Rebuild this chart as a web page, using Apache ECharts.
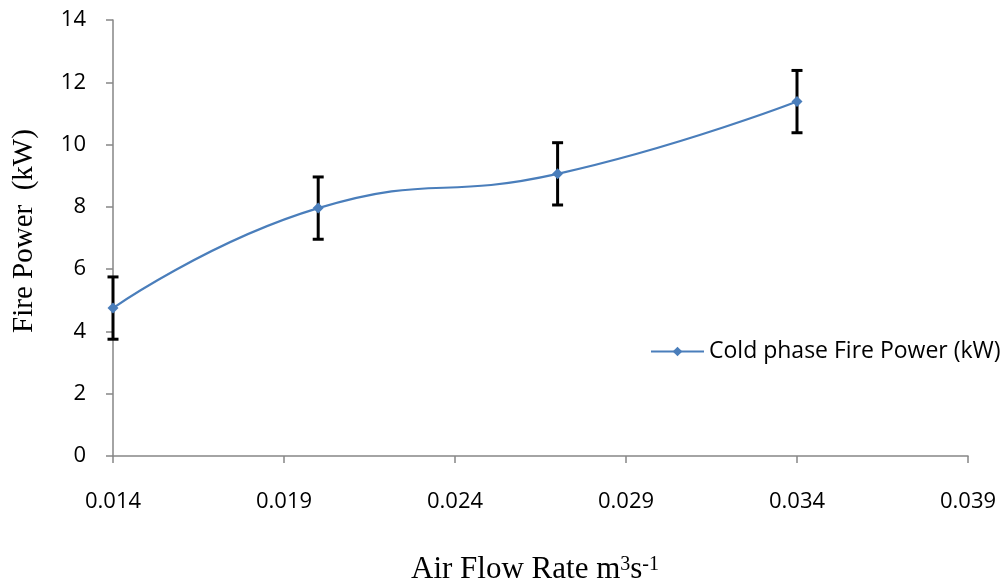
<!DOCTYPE html>
<html><head><meta charset="utf-8">
<script src="https://cdn.jsdelivr.net/npm/echarts@6/dist/echarts.min.js"></script>
<style>html,body{margin:0;padding:0;background:#fff}#c{width:1008px;height:586px}</style>
</head><body><div id="c"></div>
<script>
const seriesName = 'Cold phase Fire Power (kW)';
const airFlow = [0.014, 0.020, 0.027, 0.034];
const firePower = [4.75, 7.96, 9.06, 11.38];
const errUp = [1, 1, 1, 1];
const errDown = [1, 1, 1, 1];
const xTickLabels = ['0.014', '0.019', '0.024', '0.029', '0.034', '0.039'];
const xStart = 0.014;   // axis origin (x values are plotted relative to it)
const xStep = 0.005;

const lineData = airFlow.map((x, i) => [x - xStart, firePower[i]]);
const errData = airFlow.map((x, i) => [x - xStart, firePower[i] - errDown[i], firePower[i] + errUp[i]]);

const chart = echarts.init(document.getElementById('c'), null, {renderer: 'canvas'});
const axisCol = '#868686';
const tickFont = '"Open Sans", "Noto Sans", sans-serif';
const serif = '"Liberation Serif", "Times New Roman", serif';
chart.setOption({
  animation: false,
  backgroundColor: '#fff',
  grid: {left: 113, right: 40, top: 20, bottom: 130, containLabel: false},
  xAxis: {
    type: 'value', min: 0, max: xStep * (xTickLabels.length - 1), interval: xStep,
    axisLine: {show: true, onZero: false, lineStyle: {color: axisCol, width: 1.5}},
    axisTick: {show: true, inside: false, length: 7, lineStyle: {color: axisCol, width: 1.5}},
    splitLine: {show: false},
    axisLabel: {margin: 35, fontSize: 22, color: '#000', fontFamily: tickFont,
      formatter: v => xTickLabels[Math.round(v / xStep)] || ''}
  },
  yAxis: {
    type: 'value', min: 0, max: 14, interval: 2,
    axisLine: {show: true, lineStyle: {color: axisCol, width: 1.5}},
    axisTick: {show: true, inside: false, length: 7, lineStyle: {color: axisCol, width: 1.5}},
    splitLine: {show: false},
    axisLabel: {margin: 27, fontSize: 22, color: '#000', fontFamily: tickFont}
  },
  legend: {
    show: true, left: 650, top: 340, padding: 0, itemWidth: 53, itemHeight: 12, itemGap: 6,
    data: [seriesName],
    textStyle: {fontSize: 23, color: '#000', fontFamily: tickFont}
  },
  graphic: [
    {type: 'text', x: 24, y: 231, rotation: Math.PI / 2,
      style: {text: 'Fire Power  (kW)', font: '29px ' + serif, fill: '#000',
        textAlign: 'center', textVerticalAlign: 'middle'}},
    {type: 'text', x: 535, y: 570,
      style: {
        text: 'Air Flow Rate m{sup|3}s{sup|-1}',
        font: '31px ' + serif, fill: '#000', textAlign: 'center', textVerticalAlign: 'middle',
        rich: {sup: {fontSize: 20, fontFamily: serif, verticalAlign: 'top', lineHeight: 31}}
      }}
  ],
  series: [
    {
      type: 'custom', name: 'err', z: 1, silent: true,
      data: errData,
      renderItem: (params, api) => {
        const x = api.value(0);
        const lo = api.coord([x, api.value(1)]);
        const hi = api.coord([x, api.value(2)]);
        const hw = 5.5;
        const st = {stroke: '#000', lineWidth: 3};
        return {type: 'group', children: [
          {type: 'line', shape: {x1: lo[0], y1: lo[1], x2: hi[0], y2: hi[1]}, style: st},
          {type: 'line', shape: {x1: lo[0] - hw, y1: lo[1], x2: lo[0] + hw, y2: lo[1]}, style: st},
          {type: 'line', shape: {x1: hi[0] - hw, y1: hi[1], x2: hi[0] + hw, y2: hi[1]}, style: st}
        ]};
      }
    },
    {
      type: 'line', name: seriesName, z: 3, data: lineData, smooth: 0.5,
      symbol: 'diamond', symbolSize: 11,
      lineStyle: {color: '#4a7ebb', width: 2.2},
      itemStyle: {color: '#4a7ebb'}
    }
  ]
});
</script>
</body></html>
